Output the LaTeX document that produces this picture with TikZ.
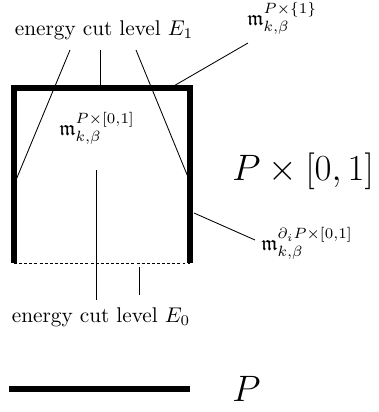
\documentclass[tikz,border=0pt]{standalone}
\usepackage{amssymb}
\begin{document}
\begin{tikzpicture}[x=0.47pt,y=-0.47pt,
  thick edge/.style={line width=2.4pt},
  thin/.style={line width=0.4pt},
  lbl/.style={inner sep=0pt}]
\useasboundingbox (0,0) rectangle (379,412);
% rectangle corners
\coordinate (bl) at (14,263);
\coordinate (tl) at (14,88);
\coordinate (tr) at (190,88);
\coordinate (br) at (190,263);
\draw[thick edge] (bl) -- (tl) -- (tr) -- (br);
\draw[thin,dash pattern=on 1.4pt off 1pt] (bl) -- (br);
% labels
\node[lbl,anchor=base] (e1) at (104,35) {energy cut level $E_1$};
\node[lbl,anchor=base] (e0) at (101,322) {energy cut level $E_0$};
\node[lbl,anchor=base west] (mtop) at (247,25) {$\mathfrak{m}_{k,\beta}^{P\times\{1\}}$};
\node[lbl,anchor=base west] (min) at (59,135) {$\mathfrak{m}_{k,\beta}^{P\times[0,1]}$};
\node[lbl,anchor=base west] (mside) at (261,250) {$\mathfrak{m}_{k,\beta}^{\partial_i P\times[0,1]}$};
\node[lbl,anchor=base west,font=\LARGE] (pint) at (232,180) {$P\times[0,1]$};
\node[lbl,anchor=base west,font=\LARGE] (p) at (232,401) {$P$};
% connectors
\coordinate (a1) at (70,50);  \coordinate (a1e) at (16,180);
\coordinate (a2) at (100,50); \coordinate (a2e) at (100,86);
\coordinate (a3) at (136,50); \coordinate (a3e) at (188,177);
\draw[thin] (a1) -- (a1e);
\draw[thin] (a2) -- (a2e);
\draw[thin] (a3) -- (a3e);
\coordinate (b1) at (248,43); \coordinate (b1e) at (172,87);
\draw[thin] (b1) -- (b1e);
\coordinate (c1) at (96,170); \coordinate (c1e) at (96,300);
\draw[thin] (c1) -- (c1e);
\coordinate (c2) at (139,267); \coordinate (c2e) at (139,295);
\draw[thin] (c2) -- (c2e);
\coordinate (d1) at (194,213); \coordinate (d1e) at (255,240);
\draw[thin] (d1) -- (d1e);
% base line P
\coordinate (pl) at (9,389); \coordinate (pr) at (190,389);
\draw[thick edge] (pl) -- (pr);
\end{tikzpicture}
\end{document}
